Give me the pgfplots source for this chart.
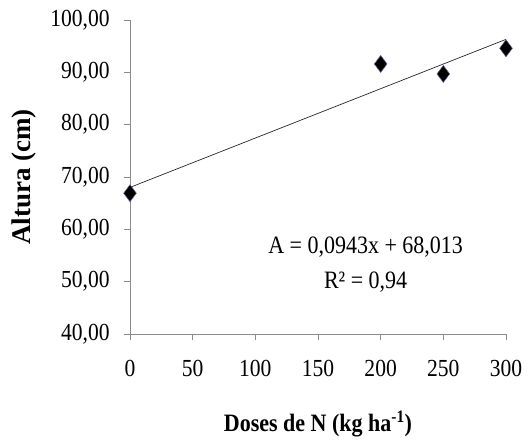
\documentclass[border=0pt]{standalone}
\usepackage{pgfplots}
\pgfplotsset{compat=1.18}
\usepackage{fontspec}
\setmainfont[FakeStretch=0.88]{Liberation Serif}
\newfontfamily\ylfont{Liberation Serif}
\begin{document}
\fontsize{24.5bp}{29bp}\selectfont
\begin{tikzpicture}
\begin{axis}[
  scale only axis,
  width=376bp, height=314bp,
  xmin=0, xmax=300, ymin=40, ymax=100,
  xtick={0,50,...,300}, ytick={40,50,...,100},
  axis lines=left, axis line style={draw=gray!90, -},
  tick style={draw=gray!90, line width=0.6pt},
  tick align=outside, major tick length=6bp,
  /pgf/number format/assume math mode=true,
  ticklabel style={font=\fontsize{24.5bp}{29bp}\selectfont},
  yticklabel={\pgfmathprintnumber[fixed,fixed zerofill,precision=2,use comma]{\tick}},
  xticklabel style={yshift=-12bp},
  yticklabel style={xshift=-6bp},
  xlabel={\textbf{Doses de N (kg ha\textsuperscript{-1})}},
  ylabel={\ylfont\bfseries Altura (cm)},
  xlabel style={font=\fontsize{25bp}{30bp}\selectfont, yshift=-18bp},
  ylabel style={font=\fontsize{27bp}{32bp}\selectfont, yshift=-2bp},
  clip=false,
]
\coordinate (o) at (rel axis cs:0,0);
\addplot[black!85, line width=0.7pt, no marks] coordinates {(0,68.013) (300,96.303)};
\addplot[only marks, mark=diamond*, mark size=8.5bp, mark options={fill=black, draw=black!70!blue!60, line width=0.5pt}] coordinates {
(0,66.9) (200,91.6) (250,89.7) (300,94.6)};
\node[align=center, font=\fontsize{25bp}{35bp}\selectfont] at (axis cs:188,53.3) {A = 0,0943x + 68,013\\R² = 0,94};
\end{axis}
\pgfresetboundingbox
\path[use as bounding box] ([shift={(-130bp,-109bp)}]o) rectangle ([shift={(399bp,334bp)}]o);
\end{tikzpicture}
\end{document}
